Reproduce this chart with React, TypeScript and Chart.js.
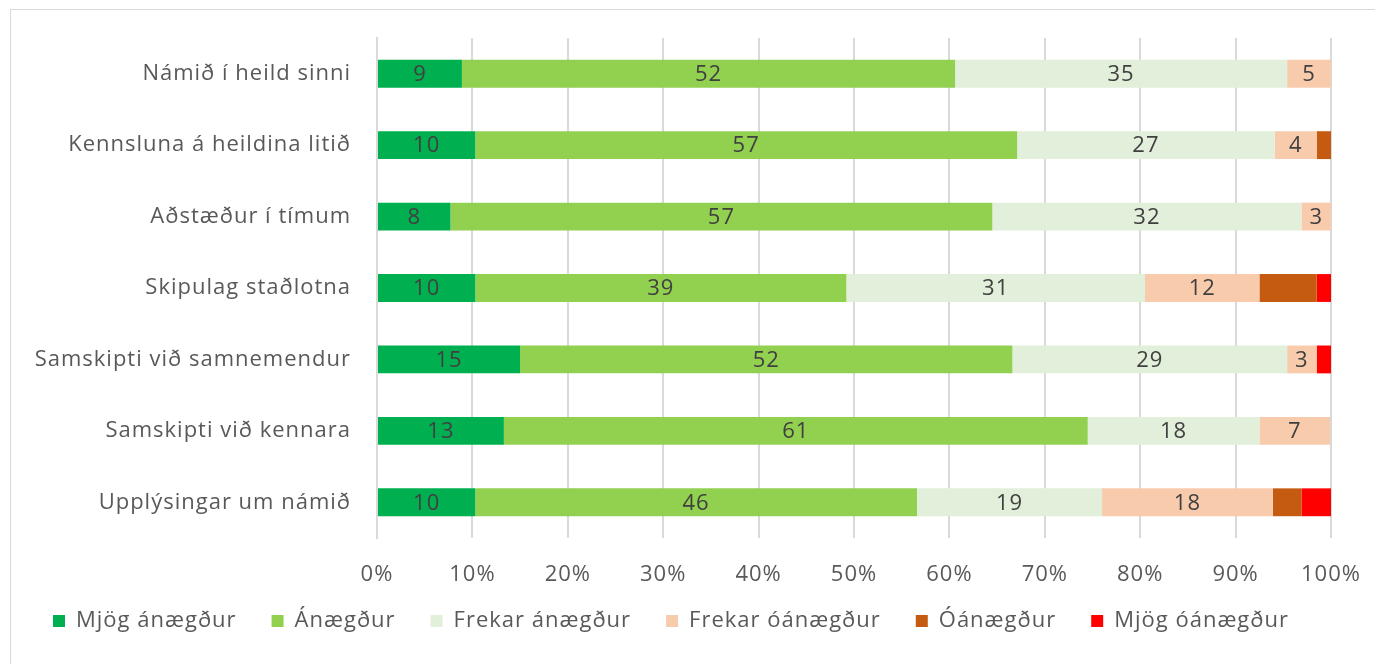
import React, { useEffect, useRef } from "react";
import { Chart, registerables } from "chart.js";

Chart.register(...registerables);

const categories = [
  "Námið í heild sinni",
  "Kennsluna á heildina litið",
  "Aðstæður í tímum",
  "Skipulag staðlotna",
  "Samskipti við samnemendur",
  "Samskipti við kennara",
  "Upplýsingar um námið",
];

const seriesNames = [
  "Mjög ánægður",
  "Ánægður",
  "Frekar ánægður",
  "Frekar óánægður",
  "Óánægður",
  "Mjög óánægður",
];

const mjogAnaegdur = [8.9, 10.3, 7.7, 10.3, 15.0, 13.3, 10.3];
const anaegdur = [51.7, 56.8, 56.8, 38.9, 51.6, 61.2, 46.3];
const frekarAnaegdur = [34.8, 27.0, 32.4, 31.3, 28.8, 18.0, 19.4];
const frekarOanaegdur = [4.6, 4.4, 3.1, 12.0, 3.1, 7.4, 17.9];
const oanaegdur = [0, 1.5, 0, 6.0, 0, 0, 3.0];
const mjogOanaegdur = [0, 0, 0, 1.5, 1.5, 0, 3.1];

const colors = ["#00B050", "#92D050", "#E2EFDA", "#F8CBAD", "#C55A11", "#FF0000"];

const xTicks = [0, 10, 20, 30, 40, 50, 60, 70, 80, 90, 100];

const FONT = "'Open Sans', 'Noto Sans', sans-serif";
const FS = 22;

const spacingPlugin = {
  id: "spacing",
  beforeUpdate(chart: any) {
    (chart.ctx as any).letterSpacing = "1px";
  },
  beforeDraw(chart: any) {
    (chart.ctx as any).letterSpacing = "1px";
  },
};

const labelPlugin = {
  id: "segLabels",
  afterDatasetsDraw(chart: any) {
    const ctx = chart.ctx;
    ctx.save();
    ctx.font = `${FS}px ${FONT}`;
    ctx.fillStyle = "#404040";
    ctx.textAlign = "center";
    ctx.textBaseline = "middle";
    chart.data.datasets.forEach((ds: any, di: number) => {
      if (di > 3) return;
      const meta = chart.getDatasetMeta(di);
      meta.data.forEach((el: any, i: number) => {
        const v = ds.data[i];
        if (!v) return;
        const { x, y, base } = el.getProps(["x", "y", "base"], true);
        ctx.fillText(String(Math.round(v)), (x + base) / 2, y + 1);
      });
    });
    ctx.restore();
  },
};

export default function App() {
  const ref = useRef<HTMLCanvasElement>(null);
  useEffect(() => {
    const all = [mjogAnaegdur, anaegdur, frekarAnaegdur, frekarOanaegdur, oanaegdur, mjogOanaegdur];
    const chart = new Chart(ref.current!, {
      type: "bar",
      data: {
        labels: categories,
        datasets: all.map((d, i) => ({
          label: seriesNames[i],
          data: d,
          backgroundColor: colors[i],
          borderWidth: 0,
          barPercentage: 0.39,
          categoryPercentage: 1,
        })),
      },
      options: {
        indexAxis: "y",
        animation: false,
        responsive: false,
        maintainAspectRatio: false,
        layout: { padding: { left: 0, right: 52, top: 28, bottom: 16 } },
        scales: {
          x: {
            stacked: true,
            min: 0,
            max: 100,
            afterBuildTicks: (s: any) => {
              s.ticks = xTicks.map((v) => ({ value: v }));
            },
            afterFit: (s: any) => {
              s.height = 37;
              s.paddingLeft = 0;
              s.paddingRight = 0;
              s._computeLabelArea = () => undefined;
            },
            ticks: {
              callback: (v: any) => v + "%",
              color: "#595959",
              font: { family: FONT, size: FS },
              padding: 24,
              maxRotation: 0,
            },
            grid: { color: "#d9d9d9", lineWidth: 2, drawTicks: false },
            border: { display: false },
          },
          y: {
            stacked: true,
            afterFit: (s: any) => {
              s.width = 366;
              s.paddingTop = 0;
              s.paddingBottom = 0;
            },
            ticks: {
              color: "#595959",
              font: { family: FONT, size: FS },
              padding: 26,
            },
            grid: { display: false, drawTicks: false },
            border: { display: true, color: "#d9d9d9", width: 2 },
          },
        },
        plugins: {
          legend: {
            position: "bottom",
            labels: {
              boxWidth: 12,
              boxHeight: 12,
              padding: 35,
              color: "#595959",
              font: { family: FONT, size: FS },
            },
          },
          tooltip: { enabled: false },
        },
      },
      plugins: [spacingPlugin, labelPlugin],
    });
    return () => chart.destroy();
  }, []);
  return (
    <div
      style={{
        marginLeft: 2,
        marginTop: 1,
        width: 1380,
        height: 660,
        border: "1px solid #d9d9d9",
        boxSizing: "border-box",
      }}
    >
      <canvas ref={ref} width={1372} height={648} style={{ display: "block" }} />
    </div>
  );
}
